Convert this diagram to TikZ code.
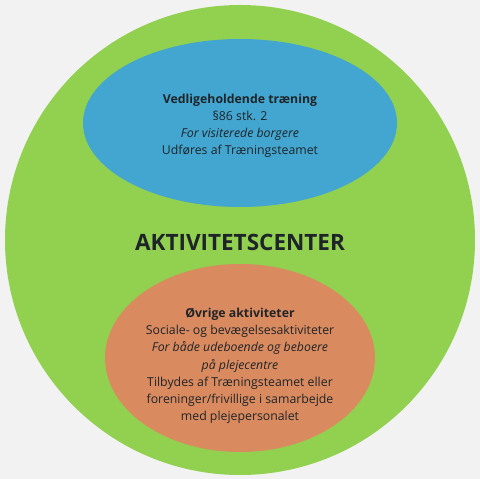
\documentclass[tikz,border=0pt]{standalone}
\usepackage{fontspec}
\setmainfont{Open Sans}
\usetikzlibrary{shapes.geometric}
\definecolor{bgc}{HTML}{F2F2F2}
\definecolor{greenc}{HTML}{92D050}
\definecolor{bluec}{HTML}{42A6D0}
\definecolor{orangec}{HTML}{DA8A5F}
\definecolor{txtc}{HTML}{1E2428}
\tikzset{
  blob/.style={ellipse, inner sep=0pt, draw=none},
  bodytext/.style={align=center, text=txtc, font=\fontsize{12.3}{17.2}\selectfont},
  titletext/.style={text=txtc, font=\fontsize{22.5}{26}\selectfont\bfseries}
}
\begin{document}
\begin{tikzpicture}[x=1pt,y=1pt]
\fill[bgc] (0,0) rectangle (480,479);
\useasboundingbox (0,0) rectangle (480,479);
\node[circle, fill=greenc, minimum size=470pt, inner sep=0pt] (outer) at (240,239) {};
\node[blob, fill=bluec, minimum width=314pt, minimum height=168pt] (top) at (240,356) {};
\node[blob, fill=orangec, minimum width=270pt, minimum height=188pt] (bottom) at (240,121) {};
\node[titletext] (title) at (240,237) {AKTIVITETSCENTER};
\node[bodytext] (toptext) at (240,353) {\textbf{Vedligeholdende træning}\\§86 stk. 2\\\textit{For visiterede borgere}\\Udføres af Træningsteamet};
\node[bodytext] (bottomtext) at (240,113) {\textbf{Øvrige aktiviteter}\\Sociale- og bevægelsesaktiviteter\\\textit{For både udeboende og beboere}\\\textit{på plejecentre}\\Tilbydes af Træningsteamet eller\\foreninger/frivillige i samarbejde\\med plejepersonalet};
\end{tikzpicture}
\end{document}
